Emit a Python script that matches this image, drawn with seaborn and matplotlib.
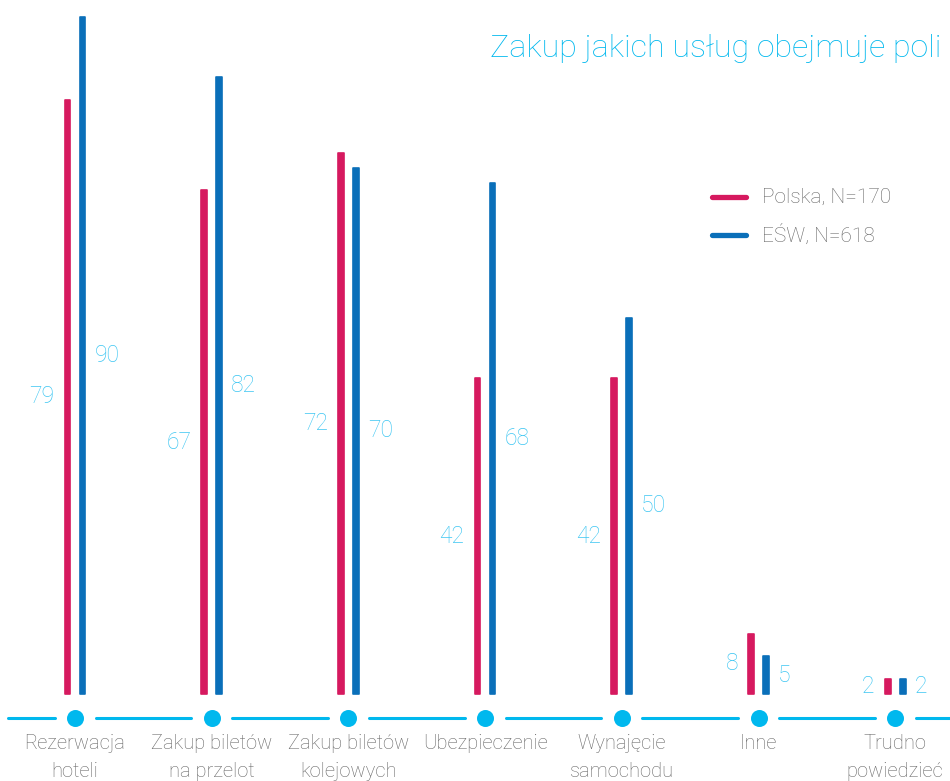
import pandas as pd
import seaborn as sns
import matplotlib.pyplot as plt

# data
categories = ['Rezerwacja\nhoteli', 'Zakup biletów\nna przelot', 'Zakup biletów\nkolejowych',
              'Ubezpieczenie', 'Wynajęcie\nsamochodu', 'Inne', 'Trudno\npowiedzieć']
polska = [79, 67, 72, 42, 42, 8, 2]
esw = [90, 82, 70, 68, 50, 5, 2]
series = ['Polska, N=170', 'EŚW, N=618']

pink = '#D6195F'
blue = '#0A6FB9'
cyan = '#00B8EE'
label_cyan = '#3DC6F2'
gray = '#666666'

df = pd.DataFrame({
    'kategoria': categories * 2,
    'wartosc': polska + esw,
    'seria': [series[0]] * len(categories) + [series[1]] * len(categories),
})

sns.set_style('white')
plt.rcParams['font.family'] = ['Roboto', 'DejaVu Sans']

fig = plt.figure(figsize=(9.5, 7.81), dpi=100)
ax = fig.add_axes([0, 0, 1, 1])

sns.barplot(data=df, x='kategoria', y='wartosc', hue='seria', order=categories,
            hue_order=series, palette=[pink, blue], width=0.22, gap=0.62,
            legend=False, ax=ax, saturation=1)
for p in ax.patches:
    p.set_edgecolor(p.get_facecolor())
    p.set_linewidth(1.2)
    p.set_joinstyle('round')

px = 136.7  # pixels per category step
ax.set_xlim(-75 / px, 875 / px)
ax.set_ylim(-87 / 7.52, 694 / 7.52)
ax.axis('off')

# value labels
off = 7.5 / px
for i, (a, b) in enumerate(zip(polska, esw)):
    ax.text(i - off - 13 / px, a / 2, str(a), ha='right', va='center',
            color=label_cyan, fontsize=16.5, fontweight='light')
    ax.text(i + off + 12 / px, b / 2, str(b), ha='left', va='center',
            color=label_cyan, fontsize=16.5, fontweight='light')

# baseline with dots
base_y = -24 / 7.52
xs = list(range(len(categories)))
g = 20.5 / px
ax.plot([-67 / px, -g], [base_y, base_y], color=cyan, lw=2.2)
for i in xs[:-1]:
    ax.plot([i + g, i + 1 - g], [base_y, base_y], color=cyan, lw=2.2)
ax.plot([xs[-1] + g, 900 / px], [base_y, base_y], color=cyan, lw=2.2)
sns.scatterplot(x=xs, y=[base_y] * len(xs), color=cyan, s=150, linewidth=0, ax=ax, zorder=5)

# category labels
for i, c in enumerate(categories):
    ax.text(i, -40 / 7.52, c, ha='center', va='top', color=gray, fontsize=14.5,
            fontweight='light', linespacing=1.6)

# legend
for k, (name, col) in enumerate(zip(series, [pink, blue])):
    y = 1 - (197 + 38 * k) / 781
    fig.add_artist(plt.Line2D([712 / 950, 746 / 950], [y, y], color=col, lw=3.8,
                              solid_capstyle='round', transform=fig.transFigure))
    fig.text(762 / 950, y, name, ha='left', va='center', color=gray, fontsize=15,
             fontweight='light')

fig.text(490 / 950, 1 - 57 / 781, 'Zakup jakich usług obejmuje poli', ha='left',
         va='baseline', color=cyan, fontsize=23.2, fontweight='light')

plt.savefig('out.png', dpi=100)
